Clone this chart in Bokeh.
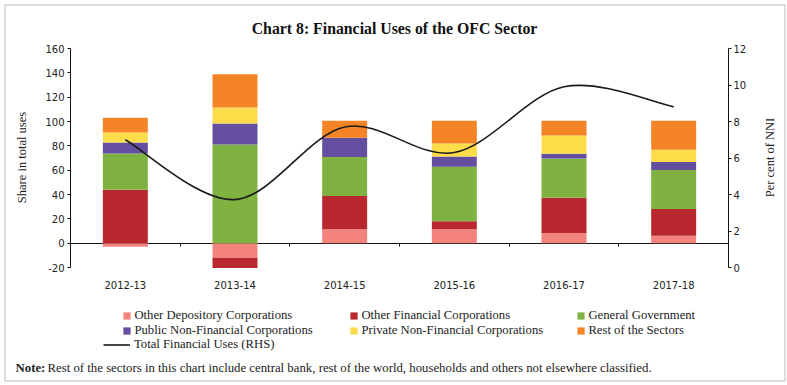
import numpy as np
from bokeh.plotting import figure
from bokeh.models import (Range1d, LinearAxis, FixedTicker, Legend, LegendItem,
                          Label, BoxAnnotation)
from bokeh.embed import file_html
from bokeh.resources import INLINE

# ---------------- data ----------------
categories = ["2012-13", "2013-14", "2014-15", "2015-16", "2016-17", "2017-18"]
other_depository = [-3.0, -12.0, 11.5, 11.5, 8.2, 6.0]
other_financial = [44.0, -8.5, 27.3, 6.6, 29.2, 22.0]
general_government = [29.6, 81.0, 32.1, 44.8, 32.2, 32.2]
public_nfc = [9.1, 17.3, 15.7, 8.3, 3.8, 6.6]
private_nfc = [8.3, 13.2, 0.0, 10.7, 15.1, 9.9]
rest_of_sectors = [12.0, 27.3, 14.0, 18.7, 12.1, 23.9]
total_uses_rhs = [7.0, 3.72, 7.7, 6.3, 9.9, 8.8]

left_ticks = [-20, 0, 20, 40, 60, 80, 100, 120, 140, 160]
right_ticks = [0, 2, 4, 6, 8, 10, 12]

series_names = ["Other Depository Corporations", "Other Financial Corporations",
                "General Government", "Public Non-Financial Corporations",
                "Private Non-Financial Corporations", "Rest of the Sectors"]
series_values = [other_depository, other_financial, general_government,
                 public_nfc, private_nfc, rest_of_sectors]
series_colors = ["#F4837D", "#B8282E", "#7FB241", "#634E9F", "#FDDC4A", "#F58426"]
line_name = "Total Financial Uses (RHS)"

TITLE = "Chart 8: Financial Uses of the OFC Sector"
Y_LEFT = "Share in total uses"
Y_RIGHT = "Per cent of NNI"
NOTE_HEAD = "Note:"
NOTE_BODY = ("Rest of the sectors in this chart include central bank, rest of the world, "
             "households and others not elsewhere classified.")

TEXT = "#222222"
AXC = "#111111"
SERIF = "Liberation Serif"
SANS = "DejaVu Sans"

# ---------------- layout geometry (picture pixels) ----------------
W, H = 787, 385
OFF = 0
PLOT_L, PLOT_R, PLOT_T, PLOT_B = 70, 728, 48, 267

def sx(px):
    return px - OFF

def sy(py):
    return H - (py - OFF)

n = len(categories)
cl, cr, ct, cb = sx(PLOT_L), sx(PLOT_R), PLOT_T - OFF, PLOT_B - OFF
ppx = (cr - cl) / n
ylo, yhi = left_ticks[0], left_ticks[-1]
ppy = (cb - ct) / (yhi - ylo)
rlo, rhi = right_ticks[0], right_ticks[-1]
ppr = (cb - ct) / (rhi - rlo)

p = figure(width=W, height=H, output_backend="svg", toolbar_location=None,
           x_axis_location=None, y_axis_location=None,
           x_range=Range1d(-cl / ppx, n + (W - cr) / ppx),
           y_range=Range1d(ylo - (H - cb) / ppy, yhi + ct / ppy),
           min_border=0)
p.min_border_left = p.min_border_right = p.min_border_top = p.min_border_bottom = 0
p.extra_y_ranges = {"rhs": Range1d(rlo - (H - cb) / ppr, rhi + ct / ppr)}
p.grid.visible = False
p.outline_line_color = None
p.background_fill_color = "white"
p.border_fill_color = "white"

# ---------------- stacked bars ----------------
xc = np.arange(n) + 0.5
pos = np.zeros(n)
neg = np.zeros(n)
bar_renderers = []
for vals, color in zip(series_values, series_colors):
    v = np.asarray(vals, dtype=float)
    base = np.where(v >= 0, pos, neg)
    top = base + v
    pos = np.where(v >= 0, top, pos)
    neg = np.where(v < 0, top, neg)
    bar_renderers.append(p.vbar(x=xc, bottom=base, top=top, width=0.41,
                                fill_color=color, line_color=None))

# ---------------- smoothed line (RHS) ----------------
yv = np.asarray(total_uses_rhs, dtype=float)
ex = np.r_[xc[0], xc, xc[-1]]
ey = np.r_[yv[0], yv, yv[-1]]
k = np.arange(n - 1)
cx0 = ex[k + 1] + (ex[k + 2] - ex[k]) / 6.0
cy0 = ey[k + 1] + (ey[k + 2] - ey[k]) / 6.0
cx1 = ex[k + 2] - (ex[k + 3] - ex[k + 1]) / 6.0
cy1 = ey[k + 2] - (ey[k + 3] - ey[k + 1]) / 6.0
line_r = p.bezier(x0=xc[:-1], y0=yv[:-1], x1=xc[1:], y1=yv[1:],
                  cx0=cx0, cy0=cy0, cx1=cx1, cy1=cy1,
                  line_color="#1a1a1a", line_width=1.6, y_range_name="rhs")

# ---------------- axes ----------------
tick_font = dict(major_label_text_font=SANS, major_label_text_font_size="10px",
                 major_label_text_color=TEXT)

x_axis = LinearAxis(fixed_location=0, bounds=(0, n),
                    ticker=FixedTicker(ticks=[float(x) for x in xc],
                                       minor_ticks=[float(b) for b in range(1, n)]),
                    major_label_overrides={float(x): c for x, c in zip(xc, categories)},
                    major_tick_line_color=None, major_tick_in=0, major_tick_out=0,
                    minor_tick_in=0, minor_tick_out=3, minor_tick_line_color=AXC,
                    axis_line_color=AXC, major_label_standoff=35,
                    level="underlay", **tick_font)
p.add_layout(x_axis, "below")

y_left = LinearAxis(fixed_location=0, bounds=(ylo, yhi),
                    ticker=FixedTicker(ticks=left_ticks),
                    major_label_overrides={t: str(t) for t in left_ticks if t < 0},
                    major_tick_in=0, major_tick_out=3, minor_tick_line_color=None,
                    major_label_standoff=3, axis_line_color=AXC,
                    major_tick_line_color=AXC, **tick_font)
p.add_layout(y_left, "left")

y_right = LinearAxis(y_range_name="rhs", fixed_location=n, bounds=(rlo, rhi),
                     ticker=FixedTicker(ticks=right_ticks),
                     major_tick_in=0, major_tick_out=3, minor_tick_line_color=None,
                     major_label_standoff=2, axis_line_color=AXC,
                     major_tick_line_color=AXC, **tick_font)
p.add_layout(y_right, "right")

# ---------------- texts ----------------
def lab(px, py, text, **kw):
    opts = dict(x_units="screen", y_units="screen", text_font=SERIF,
                text_font_size="12.5px", text_color=TEXT)
    opts.update(kw)
    p.add_layout(Label(x=sx(px), y=sy(py), text=text, **opts))

lab(394, 28, TITLE, text_align="center", text_baseline="alphabetic",
    text_font_style="bold", text_font_size="15.8px", text_color="#111111")
lab(21, 157, Y_LEFT, angle=np.pi / 2, text_align="center", text_baseline="middle")
lab(769, 157, Y_RIGHT, angle=np.pi / 2, text_align="center", text_baseline="middle")
lab(15, 367, NOTE_HEAD, text_baseline="alphabetic", text_font_style="bold",
    text_font_size="12.8px")
lab(47, 367, NOTE_BODY, text_baseline="alphabetic", text_font_size="12.8px")

# ---------------- legend ----------------
def make_legend(items, left_px, center_py, item_h, gw, gh, standoff, lw):
    lg = Legend(items=items, location=(sx(left_px), sy(center_py + item_h / 2)),
                orientation="horizontal",
                glyph_width=gw, glyph_height=gh, label_standoff=standoff,
                label_width=lw, label_height=item_h, spacing=0, padding=0, margin=0,
                border_line_color=None, background_fill_alpha=0,
                label_text_font=SERIF, label_text_font_size="12.7px",
                label_text_color=TEXT)
    p.add_layout(lg)

row1 = [LegendItem(label=series_names[i], renderers=[bar_renderers[i]]) for i in range(3)]
row2 = [LegendItem(label=series_names[i], renderers=[bar_renderers[i]]) for i in range(3, 6)]
row3 = [LegendItem(label=line_name, renderers=[line_r])]
make_legend(row1, 122.4, 315.7, 15, 9, 9, 3, 215)
make_legend(row2, 122.4, 330, 15, 9, 9, 3, 215)
make_legend(row3, 103, 344.3, 15, 27, 15, 4, 150)

# ---------------- outer border ----------------
p.add_layout(BoxAnnotation(left=sx(4.5), right=sx(784.5), bottom=sy(380.5), top=sy(4.5),
                           left_units="screen", right_units="screen",
                           top_units="screen", bottom_units="screen",
                           fill_alpha=0, line_color="#222222", line_width=1,
                           level="overlay"))

open("out.html", "w").write(file_html(p, INLINE))
